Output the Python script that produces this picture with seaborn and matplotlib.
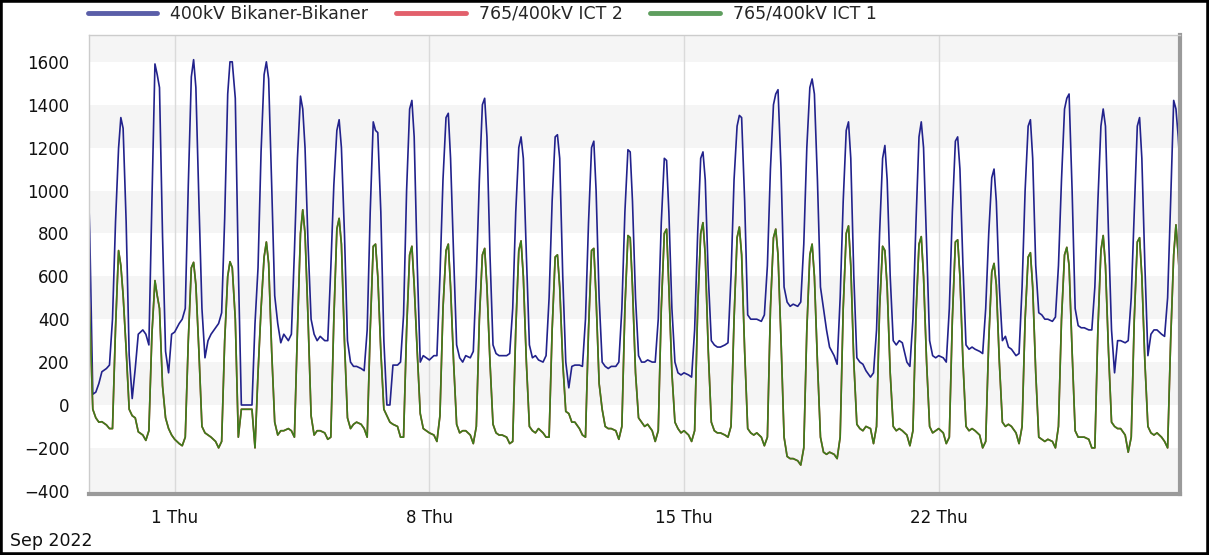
import pandas as pd
import matplotlib
matplotlib.use("Agg")
import matplotlib.pyplot as plt
import matplotlib.dates as mdates
from matplotlib.ticker import MultipleLocator, FuncFormatter
from matplotlib.lines import Line2D
from matplotlib.patches import Rectangle
import seaborn as sns

# one row per day, values (MW) at the hours below
days = pd.date_range("2022-08-29", "2022-09-28", freq="D")
hours = [0, 3, 5, 7, 9, 11, 12.5, 14, 16, 18, 20, 22]

bikaner = [
    [200, 200, 200, 300, 800, 1250, 1400, 1300, 800, 50, 60, 100],      # Aug 29
    [155, 170, 186, 400, 855, 1197, 1340, 1290, 855, 233, 30, 170],
    [330, 350, 330, 280, 950, 1590, 1540, 1480, 790, 250, 150, 330],
    [340, 380, 400, 450, 1025, 1530, 1610, 1480, 950, 450, 220, 300],    # Sep 1
    [330, 360, 380, 430, 870, 1450, 1600, 1600, 1430, 640, 0, 0],
    [0, 0, 380, 640, 1180, 1540, 1600, 1520, 1025, 510, 380, 290],
    [330, 300, 330, 715, 1150, 1440, 1380, 1200, 750, 400, 330, 300],
    [320, 300, 300, 637, 1025, 1280, 1330, 1200, 800, 300, 200, 180],
    [180, 170, 160, 350, 900, 1320, 1280, 1270, 900, 300, 0, 0],
    [186, 186, 200, 420, 1000, 1380, 1420, 1250, 660, 200, 230, 220],
    [210, 230, 230, 600, 1050, 1340, 1360, 1150, 700, 280, 220, 200],
    [230, 220, 250, 600, 1050, 1400, 1430, 1250, 700, 280, 240, 230],
    [230, 230, 240, 450, 900, 1200, 1250, 1150, 700, 280, 220, 230],
    [210, 200, 230, 500, 950, 1250, 1260, 1150, 600, 200, 80, 180],
    [186, 186, 180, 400, 850, 1200, 1230, 1000, 500, 200, 180, 170],
    [180, 180, 200, 450, 900, 1190, 1180, 950, 500, 230, 200, 200],
    [210, 200, 200, 400, 850, 1150, 1140, 900, 450, 200, 150, 140],
    [150, 140, 130, 350, 800, 1150, 1180, 1050, 600, 300, 280, 270],     # Sep 15
    [270, 280, 290, 600, 1050, 1300, 1350, 1340, 950, 420, 400, 400],
    [400, 390, 420, 650, 1100, 1400, 1450, 1470, 1100, 550, 480, 460],
    [470, 460, 480, 750, 1200, 1480, 1520, 1450, 1050, 550, 450, 350],
    [270, 230, 190, 500, 950, 1280, 1320, 1150, 600, 220, 200, 190],
    [160, 130, 150, 350, 800, 1150, 1210, 1050, 600, 300, 280, 300],
    [290, 200, 180, 400, 850, 1250, 1320, 1200, 750, 300, 230, 220],
    [230, 220, 200, 450, 900, 1230, 1250, 1100, 650, 280, 260, 270],     # Sep 22
    [260, 250, 240, 450, 800, 1060, 1100, 950, 550, 300, 320, 270],
    [260, 230, 240, 550, 1000, 1300, 1330, 1150, 650, 430, 420, 400],
    [400, 390, 410, 650, 1050, 1380, 1430, 1450, 1000, 450, 370, 360],
    [360, 350, 350, 550, 950, 1300, 1380, 1300, 800, 350, 150, 300],
    [300, 290, 300, 500, 900, 1300, 1340, 1150, 650, 230, 330, 350],
    [350, 330, 320, 500, 950, 1420, 1380, 1250, 1000, 400, 300, 300],    # Sep 28
]

ict1 = [
    [-100, -100, -120, -100, 300, 650, 750, 750, 420, -20, -60, -80],    # Aug 29
    [-78, -93, -110, -110, 360, 720, 650, 513, 260, -20, -50, -60],
    [-125, -140, -165, -120, 330, 580, 510, 450, 90, -60, -110, -140],
    [-160, -180, -190, -150, 300, 640, 665, 560, 250, -100, -130, -140], # Sep 1
    [-150, -170, -200, -170, 300, 600, 668, 640, 400, -150, -20, -20],
    [-20, -20, -200, 150, 450, 690, 760, 660, 250, -80, -140, -120],
    [-120, -110, -120, -150, 350, 800, 910, 800, 400, -50, -140, -120],
    [-120, -130, -160, -150, 400, 820, 870, 750, 300, -60, -110, -90],
    [-80, -90, -110, -150, 350, 740, 750, 600, 250, -20, -50, -80],
    [-90, -100, -150, -150, 350, 700, 740, 560, 250, -40, -110, -120],
    [-130, -140, -170, -50, 450, 720, 750, 550, 200, -90, -130, -120],
    [-120, -140, -180, -100, 400, 700, 730, 550, 200, -90, -130, -140],
    [-140, -150, -180, -170, 350, 720, 765, 600, 200, -100, -120, -130],
    [-110, -130, -150, -150, 350, 690, 700, 550, 200, -30, -40, -80],
    [-80, -110, -140, -150, 350, 720, 730, 500, 100, -20, -100, -110],
    [-110, -120, -160, -100, 450, 790, 780, 550, 150, -60, -80, -100],
    [-90, -120, -170, -120, 450, 800, 820, 550, 150, -80, -110, -130],
    [-120, -140, -170, -120, 450, 800, 850, 700, 250, -80, -120, -130],  # Sep 15
    [-130, -140, -150, -100, 400, 780, 830, 700, 250, -110, -130, -140],
    [-130, -150, -190, -150, 450, 780, 820, 700, 300, -150, -240, -250],
    [-250, -260, -280, -200, 350, 700, 750, 600, 200, -150, -220, -230],
    [-220, -230, -250, -150, 450, 800, 835, 650, 200, -90, -110, -120],
    [-100, -110, -180, -100, 450, 740, 720, 550, 150, -100, -120, -110],
    [-120, -140, -190, -120, 420, 750, 785, 600, 200, -100, -130, -120],
    [-110, -130, -180, -150, 400, 760, 770, 600, 200, -100, -120, -110], # Sep 22
    [-120, -140, -200, -170, 300, 620, 660, 560, 200, -80, -100, -90],
    [-100, -130, -180, -100, 400, 690, 710, 550, 150, -150, -160, -170],
    [-160, -170, -200, -100, 400, 700, 735, 650, 250, -120, -150, -150],
    [-150, -160, -200, -200, 350, 720, 790, 650, 250, -80, -100, -110],
    [-110, -140, -220, -150, 400, 760, 780, 600, 200, -100, -130, -140],
    [-130, -150, -170, -200, 300, 700, 840, 700, 450, -50, -100, -100],  # Sep 28
]

# ICT 2 carries the same flow as ICT 1, its line sits under the green one
ict2 = ict1

names = ["400kV Bikaner-Bikaner", "765/400kV ICT 2", "765/400kV ICT 1"]
line_colors = ["#22228c", "#c8323c", "#3c7d1c"]
legend_colors = ["#5a5ea8", "#e2606c", "#5e9e5e"]

rows = []
for name, table in zip(names, [bikaner, ict2, ict1]):
    for day, vals in zip(days, table):
        for h, v in zip(hours, vals):
            rows.append((name, day + pd.Timedelta(hours=h), v))
df = pd.DataFrame(rows, columns=["series", "time", "mw"])

sns.set_style("white")
plt.rcParams["font.family"] = ["DejaVu Sans"]

W, H = 1209, 555
fig = plt.figure(figsize=(W / 100, H / 100), dpi=100)
ax = fig.add_axes([89 / W, 1 - 494 / H, (1180 - 89) / W, (494 - 35) / H])

ymin, ymax = -415, 1725
for lo, hi in [(ymin, -200), (0, 200), (400, 600), (800, 1000), (1200, 1400), (1600, ymax)]:
    ax.axhspan(lo, hi, color="#f5f5f5", lw=0, zorder=0)

thursdays = pd.to_datetime(["2022-09-01", "2022-09-08", "2022-09-15", "2022-09-22"])
for d in thursdays:
    ax.axvline(d, color="#dadada", lw=1, zorder=0.5)

sns.lineplot(data=df, x="time", y="mw", hue="series", hue_order=names,
             palette=dict(zip(names, line_colors)), estimator=None,
             linewidth=1.2, legend=False, ax=ax)

ax.set_xlim(pd.Timestamp("2022-08-29 15:30"), pd.Timestamp("2022-09-28 15:10"))
ax.set_ylim(ymin, ymax)
ax.set_xlabel("")
ax.set_ylabel("")

ax.set_yticks(range(-400, 1601, 200))
ax.yaxis.set_minor_locator(MultipleLocator(50))
ax.tick_params(axis="y", which="major", direction="out", length=8, color="#8c8c8c",
               labelsize=12, pad=6, labelcolor="#111111")
ax.tick_params(axis="y", which="minor", direction="in", length=9, color="#c4c4c4")

ax.xaxis.set_major_locator(mdates.DayLocator(bymonthday=[1, 8, 15, 22]))
ax.xaxis.set_minor_locator(mdates.DayLocator())
ax.xaxis.set_major_formatter(FuncFormatter(
    lambda x, p: f"{mdates.num2date(x).day} {mdates.num2date(x):%a}"))
ax.tick_params(axis="x", which="major", direction="out", length=6, color="#9a9a9a",
               labelsize=12, pad=5, labelcolor="#111111")
ax.tick_params(axis="x", which="minor", direction="in", length=8, color="#c4c4c4")

for side in ["top", "left"]:
    ax.spines[side].set_color("#cccccc")
    ax.spines[side].set_linewidth(1)
for side in ["right", "bottom"]:
    ax.spines[side].set_color("#9a9a9a")
    ax.spines[side].set_linewidth(3)

handles = [Line2D([], [], color=c, lw=3.5) for c in legend_colors]
fig.legend(handles, names, loc="upper left", bbox_to_anchor=(88 / W, 1 - 5 / H),
           ncol=3, frameon=False, fontsize=12.5, handlelength=4.0,
           handletextpad=0.75, columnspacing=1.6, borderpad=0, borderaxespad=0)

fig.text(10 / W, 1 - 541 / H, "Sep 2022", fontsize=12.5, color="#111111",
         ha="left", va="center")

fig.add_artist(Rectangle((0, 0), 1, 1, transform=fig.transFigure, fill=False,
                         edgecolor="black", lw=4))

fig.savefig("out.png", dpi=100)
